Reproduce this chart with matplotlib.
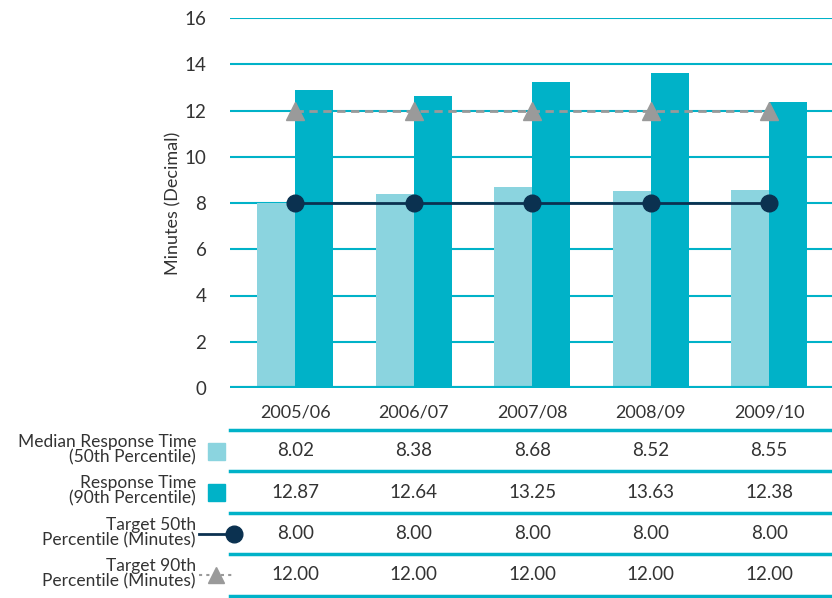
import numpy as np
import matplotlib.pyplot as plt
from matplotlib.transforms import blended_transform_factory

plt.rcParams['font.family'] = ['Lato', 'DejaVu Sans']

years = ['2005/06', '2006/07', '2007/08', '2008/09', '2009/10']
median_50 = [8.02, 8.38, 8.68, 8.52, 8.55]
resp_90 = [12.87, 12.64, 13.25, 13.63, 12.38]
target_50 = [8.00, 8.00, 8.00, 8.00, 8.00]
target_90 = [12.00, 12.00, 12.00, 12.00, 12.00]
row_labels = ['Median Response Time\n(50th Percentile)',
              'Response Time\n(90th Percentile)',
              'Target 50th\nPercentile (Minutes)',
              'Target 90th\nPercentile (Minutes)']

light = '#8bd4df'
teal = '#00b2c8'
navy = '#0b3150'
grey = '#9a9a9a'
txt = '#333333'

W, H = 832, 598
fig = plt.figure(figsize=(W / 100, H / 100), dpi=100)
ax = fig.add_axes([230 / W, (H - 388) / H, (W - 230) / W, 370 / H])

x = np.arange(len(years))
bw = 0.32
ax.bar(x - bw / 2, median_50, bw, color=light, zorder=2)
ax.bar(x + bw / 2, resp_90, bw, color=teal, zorder=2)
ax.plot(x, target_50, color=navy, lw=2, marker='o', ms=12, zorder=4)
ax.plot(x, target_90, color=grey, lw=2, ls=(0, (3, 2)), marker='^', ms=13, zorder=4)

ax.set_xlim(-0.55, 4.53)
ax.set_ylim(0, 16)
ax.set_yticks(range(0, 17, 2))
ax.grid(axis='y', color=teal, lw=1.5, zorder=0)
ax.axhline(0, color=teal, lw=3, zorder=3)
for s in ax.spines.values():
    s.set_visible(False)
ax.tick_params(axis='y', length=0, labelsize=13.5, colors=txt, pad=17)
ax.tick_params(axis='x', length=0, labelbottom=False)
ax.set_ylabel('Minutes (Decimal)', fontsize=13, color=txt, labelpad=2)

# data table below the chart
tr = blended_transform_factory(ax.transData, fig.transFigure)
def fy(py):
    return 1 - py / H

for i, yr in enumerate(years):
    fig.text(i, fy(412), yr, transform=tr, ha='center', va='center', fontsize=13, color=txt)

line_y = [430, 471, 513, 554, 596]
for ly in line_y:
    fig.add_artist(plt.Line2D([230 / W, 1], [fy(ly), fy(ly)], color=teal, lw=2.5))

rows = [median_50, resp_90, target_50, target_90]
for r, vals in enumerate(rows):
    cy = (line_y[r] + line_y[r + 1]) / 2
    for i, v in enumerate(vals):
        fig.text(i, fy(cy), f'{v:.2f}', transform=tr, ha='center', va='center',
                 fontsize=13.5, color=txt)
    fig.text(196 / W, fy(cy - 1), row_labels[r], ha='right', va='center',
             fontsize=12.5, color=txt, linespacing=0.95)

# legend keys
kx = 216 / W
cy0 = (line_y[0] + line_y[1]) / 2
cy1 = (line_y[1] + line_y[2]) / 2
cy2 = (line_y[2] + line_y[3]) / 2
cy3 = (line_y[3] + line_y[4]) / 2
fig.add_artist(plt.Rectangle((208 / W, fy(cy0 + 9)), 17 / W, 17 / H, color=light))
fig.add_artist(plt.Rectangle((208 / W, fy(cy1 + 9)), 17 / W, 17 / H, color=teal))
fig.add_artist(plt.Line2D([199 / W, 234 / W], [fy(cy2), fy(cy2)], color=navy, lw=2,
                          marker='o', ms=12, markevery=[1]))
fig.add_artist(plt.Line2D([199 / W, kx, 234 / W], [fy(cy3)] * 3, color=grey, lw=1.5,
                          ls=(0, (1.5, 2)), marker='^', ms=12, markevery=[1]))

fig.savefig('out.png', dpi=100)
